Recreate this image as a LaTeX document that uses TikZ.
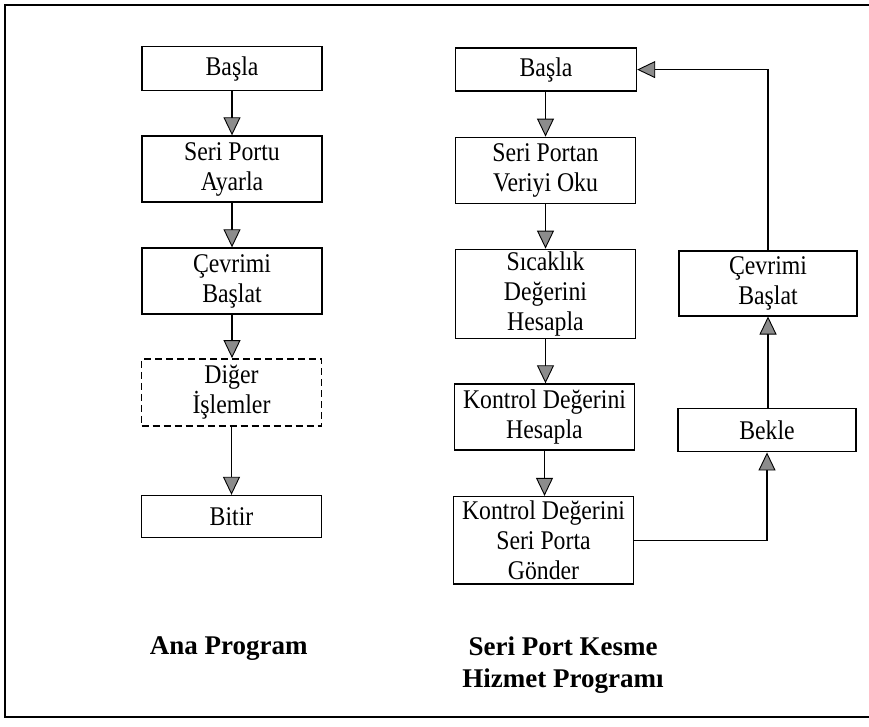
\documentclass[tikz,border=0pt]{standalone}
\usepackage{fontspec}
\setmainfont{Liberation Serif}
\newfontfamily\boxfont[FakeStretch=0.88]{Liberation Serif}
\usetikzlibrary{arrows.meta}
\tikzset{
  box/.style={draw, line width=1.4pt, rectangle, inner sep=2pt, align=center,
    font=\boxfont\fontsize{27}{30}\selectfont, minimum width=180pt},
  dashbox/.style={box, dash pattern=on 7pt off 4pt},
  arr/.style={draw, line width=1.2pt, -{Triangle[width=17pt,length=18pt,fill=black!45,line width=0.9pt]}},
  title/.style={font=\fontsize{27}{32}\selectfont\bfseries, anchor=base, inner sep=0pt},
  frame/.style={draw, line width=1.1pt}
}
\begin{document}
\begin{tikzpicture}[x=1pt,y=-1pt]
\useasboundingbox (0,0) rectangle (869,726);
\clip (0,0) rectangle (869,726);
\draw[frame] (875,5) -- (5,5) -- (5,717) -- (875,717);
% left column
\node[box, minimum height=44pt] (l1) at (232,68.7) {Başla};
\node[box, minimum height=66pt] (l2) at (232,169) {Seri Portu\\Ayarla};
\node[box, minimum height=66pt] (l3) at (232,281) {Çevrimi\\Başlat};
\node[dashbox, minimum height=67pt] (l4) at (231.5,392.3) {Diğer\\İşlemler};
\node[box, minimum height=42pt] (l5) at (231.5,516.5) {Bitir};
% right column
\node[box, minimum height=43pt, minimum width=181pt] (r1) at (546,69.6) {Başla};
\node[box, minimum height=66pt] (r2) at (545.5,170.3) {Seri Portan\\Veriyi Oku};
\node[box, minimum height=89pt] (r3) at (545.5,293.8) {Sıcaklık\\Değerini\\Hesapla};
\node[box, minimum height=66pt] (r4) at (544.5,417) {Kontrol Değerini\\Hesapla};
\node[box, minimum height=87.5pt] (r5) at (543.5,540.3) {Kontrol Değerini\\Seri Porta\\Gönder};
% third column
\node[box, minimum height=65pt, minimum width=178pt] (c1) at (768,283.3) {Çevrimi\\Başlat};
\node[box, minimum height=43.5pt, minimum width=178pt] (c2) at (767,430) {Bekle};
% connectors
\draw[arr] (l1.south) -- (l1.south |- l2.north);
\draw[arr] (l2.south) -- (l2.south |- l3.north);
\draw[arr] (l3.south) -- (l3.south |- l4.north);
\draw[arr] (l4.south) -- (l4.south |- l5.north);
\draw[arr] (r2.north |- r1.south) -- (r2.north);
\draw[arr] (r2.south) -- (r2.south |- r3.north);
\draw[arr] (r3.south) -- (r3.south |- r4.north);
\draw[arr] (r4.south) -- (r4.south |- r5.north);
\draw[arr] (r5.east) -| (c2.south);
\draw[arr] (c2.north -| c1.south) -- (c1.south);
\draw[arr] (c1.north) |- (r1.east);
% titles
\node[title] (t1) at (228.7,654) {Ana Program};
\node[title] (t2) at (563,655) {Seri Port Kesme};
\node[title] (t3) at (563,687) {Hizmet Programı};
\end{tikzpicture}
\end{document}
